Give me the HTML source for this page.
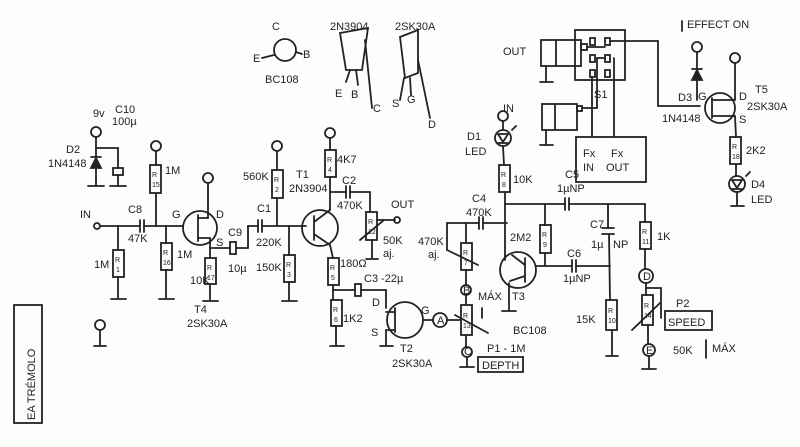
<!DOCTYPE html>
<html><head><meta charset="utf-8"><style>
html,body{margin:0;padding:0;background:#fff}
svg{display:block}
text{font-family:"Liberation Sans",sans-serif;fill:#222;font-size:11px}
.r{font-size:7px}
</style></head><body>
<svg width="800" height="447" viewBox="0 0 800 447" xmlns="http://www.w3.org/2000/svg">
<rect width="800" height="447" fill="#fdfdfb"/>
<g stroke="#222" stroke-width="1.8" fill="none" stroke-linecap="round">
<rect x="14" y="305" width="28" height="118"/>
<circle cx="96" cy="132" r="5"/><line x1="96" y1="137" x2="96" y2="185"/><line x1="88" y1="186" x2="104" y2="186"/>
<polygon points="91,168 101,168 96,158" fill="#222"/><line x1="91" y1="157" x2="101" y2="157"/>
<line x1="96" y1="148" x2="118" y2="148"/><line x1="118" y1="148" x2="118" y2="168"/><rect x="113" y="168" width="10" height="7"/><line x1="118" y1="175" x2="118" y2="186"/><line x1="110" y1="186" x2="126" y2="186"/>
<circle cx="100" cy="325" r="5"/><line x1="100" y1="330" x2="100" y2="345"/><line x1="94" y1="346" x2="106" y2="346"/>
<circle cx="97" cy="226" r="3"/><line x1="100" y1="226" x2="140" y2="226"/><line x1="140" y1="220" x2="140" y2="232"/><line x1="144" y1="220" x2="144" y2="232"/><line x1="144" y1="226" x2="183" y2="226"/>
<line x1="118" y1="226" x2="118" y2="250"/><rect x="113" y="250" width="11" height="27"/><line x1="118" y1="277" x2="118" y2="298"/><line x1="111" y1="299" x2="126" y2="299"/>
<circle cx="156" cy="146" r="5"/><line x1="156" y1="151" x2="156" y2="165"/><rect x="150" y="165" width="11" height="28"/><line x1="156" y1="193" x2="156" y2="226"/>
<line x1="166" y1="226" x2="166" y2="243"/><rect x="161" y="243" width="11" height="27"/><line x1="166" y1="270" x2="166" y2="298"/><line x1="159" y1="299" x2="174" y2="299"/>
<circle cx="200" cy="228" r="17"/><line x1="198" y1="215" x2="198" y2="241"/><line x1="198" y1="218" x2="208" y2="218"/><line x1="208" y1="218" x2="208" y2="183"/><circle cx="208" cy="178" r="5"/>
<line x1="198" y1="238" x2="210" y2="238"/><line x1="210" y1="238" x2="210" y2="248"/><line x1="210" y1="248" x2="230" y2="248"/>
<rect x="230" y="242" width="6" height="12"/><line x1="236" y1="248" x2="248" y2="248"/><line x1="248" y1="248" x2="248" y2="226"/>
<line x1="210" y1="248" x2="210" y2="258"/><rect x="205" y="258" width="11" height="26"/><line x1="210" y1="284" x2="210" y2="300"/><line x1="203" y1="301" x2="218" y2="301"/>
<line x1="248" y1="226" x2="258" y2="226"/><line x1="258" y1="220" x2="258" y2="232"/><line x1="262" y1="220" x2="262" y2="232"/><line x1="262" y1="226" x2="306" y2="226"/>
<circle cx="277" cy="146" r="5"/><line x1="277" y1="151" x2="277" y2="170"/><rect x="272" y="170" width="11" height="28"/><line x1="277" y1="198" x2="277" y2="226"/>
<line x1="289" y1="226" x2="289" y2="255"/><rect x="284" y="255" width="11" height="27"/><line x1="289" y1="282" x2="289" y2="300"/><line x1="282" y1="301" x2="297" y2="301"/>
<circle cx="320" cy="228" r="18"/><line x1="314" y1="216" x2="314" y2="240"/><line x1="314" y1="222" x2="330" y2="210"/><line x1="314" y1="234" x2="330" y2="245"/>
<circle cx="330" cy="133" r="5"/><line x1="330" y1="138" x2="330" y2="150"/><rect x="325" y="150" width="11" height="27"/><line x1="330" y1="177" x2="330" y2="210"/>
<line x1="330" y1="192" x2="346" y2="192"/><line x1="346" y1="186" x2="346" y2="198"/><line x1="350" y1="186" x2="350" y2="198"/><line x1="350" y1="192" x2="370" y2="192"/><line x1="370" y1="192" x2="370" y2="212"/>
<rect x="366" y="212" width="11" height="28"/><line x1="372" y1="240" x2="372" y2="258"/><line x1="366" y1="259" x2="378" y2="259"/><line x1="360" y1="240" x2="384" y2="220"/><line x1="377" y1="220" x2="395" y2="220"/><circle cx="397" cy="220" r="3"/>
<line x1="330" y1="245" x2="333" y2="258"/><rect x="328" y="258" width="11" height="27"/><line x1="333" y1="285" x2="333" y2="300"/>
<line x1="333" y1="290" x2="355" y2="290"/><rect x="355" y="284" width="6" height="12"/><line x1="361" y1="290" x2="386" y2="290"/><line x1="386" y1="290" x2="386" y2="308"/>
<rect x="331" y="300" width="11" height="26"/><line x1="336" y1="326" x2="336" y2="345"/><line x1="330" y1="346" x2="344" y2="346"/>
<circle cx="405" cy="320" r="18"/><line x1="395" y1="308" x2="395" y2="332"/><line x1="395" y1="312" x2="386" y2="312"/><line x1="395" y1="330" x2="386" y2="330"/><line x1="386" y1="330" x2="386" y2="345"/><line x1="380" y1="346" x2="393" y2="346"/>
<line x1="423" y1="320" x2="433" y2="320"/><circle cx="440" cy="320" r="7"/><line x1="447" y1="320" x2="460" y2="320"/>
<circle cx="466" cy="290" r="5"/><line x1="466" y1="295" x2="466" y2="305"/><rect x="461" y="305" width="11" height="30"/><line x1="466" y1="335" x2="466" y2="346"/><circle cx="467" cy="352" r="5"/><line x1="467" y1="357" x2="467" y2="366"/><line x1="460" y1="367" x2="474" y2="367"/>
<line x1="455" y1="315" x2="488" y2="333"/><line x1="482" y1="318" x2="482" y2="308"/>
<rect x="478" y="357" width="45" height="15"/>
<line x1="466" y1="285" x2="466" y2="270"/><rect x="461" y="243" width="11" height="27"/><line x1="466" y1="243" x2="466" y2="223"/><line x1="447" y1="223" x2="479" y2="223"/><line x1="447" y1="223" x2="447" y2="250"/><line x1="447" y1="250" x2="478" y2="265"/>
<line x1="479" y1="217" x2="479" y2="229"/><line x1="483" y1="217" x2="483" y2="229"/><line x1="483" y1="223" x2="507" y2="223"/>
<circle cx="503" cy="116" r="5"/><line x1="503" y1="121" x2="503" y2="130"/><circle cx="503" cy="138" r="8"/><polygon points="498,134 508,134 503,142"/><line x1="498" y1="143" x2="508" y2="143"/><line x1="512" y1="130" x2="516" y2="126"/><line x1="503" y1="146" x2="504" y2="165"/><rect x="499" y="165" width="11" height="27"/><line x1="505" y1="192" x2="505" y2="260"/>
<line x1="505" y1="204" x2="565" y2="204"/><line x1="565" y1="198" x2="565" y2="210"/><line x1="569" y1="198" x2="569" y2="210"/><line x1="569" y1="204" x2="645" y2="204"/>
<circle cx="518" cy="270" r="18"/><line x1="525" y1="258" x2="525" y2="282"/><line x1="525" y1="265" x2="512" y2="255"/><line x1="525" y1="276" x2="510" y2="281"/><line x1="536" y1="266" x2="572" y2="266"/><line x1="509" y1="283" x2="509" y2="310"/><line x1="502" y1="311" x2="516" y2="311"/>
<line x1="545" y1="204" x2="545" y2="225"/><rect x="540" y="225" width="11" height="28"/><line x1="545" y1="253" x2="545" y2="266"/>
<line x1="572" y1="260" x2="572" y2="272"/><line x1="576" y1="260" x2="576" y2="272"/><line x1="576" y1="266" x2="610" y2="266"/>
<line x1="608" y1="204" x2="608" y2="228"/><line x1="602" y1="228" x2="614" y2="228"/><line x1="602" y1="234" x2="614" y2="234"/><line x1="609" y1="234" x2="610" y2="300"/>
<rect x="606" y="300" width="11" height="30"/><line x1="612" y1="330" x2="612" y2="355"/><line x1="606" y1="356" x2="618" y2="356"/>
<line x1="645" y1="204" x2="645" y2="222"/><rect x="640" y="222" width="11" height="27"/><line x1="645" y1="249" x2="645" y2="268"/><circle cx="646" cy="276" r="7"/><line x1="646" y1="283" x2="646" y2="295"/>
<rect x="642" y="295" width="11" height="30"/><line x1="648" y1="325" x2="648" y2="343"/><circle cx="649" cy="350" r="6"/><line x1="649" y1="356" x2="649" y2="368"/><line x1="642" y1="369" x2="656" y2="369"/>
<line x1="646" y1="288" x2="661" y2="288"/><line x1="661" y1="288" x2="661" y2="318"/><line x1="632" y1="330" x2="660" y2="303"/>
<rect x="665" y="311" width="47" height="19"/><line x1="706" y1="340" x2="706" y2="358"/>
<circle cx="285" cy="50" r="11"/><line x1="262" y1="58" x2="274" y2="55"/><line x1="296" y1="52" x2="302" y2="54"/>
<path d="M340,33 L368,28 L362,70 L346,70 Z"/><line x1="350" y1="70" x2="346" y2="82"/><line x1="356" y1="70" x2="358" y2="85"/><line x1="365" y1="40" x2="372" y2="108"/>
<path d="M400,37 L418,30 L418,73 L405,78 Z"/><line x1="404" y1="78" x2="400" y2="100"/><line x1="410" y1="78" x2="411" y2="95"/><line x1="418" y1="60" x2="430" y2="118"/>
<rect x="541" y="40" width="40" height="26"/><line x1="556" y1="40" x2="556" y2="66"/><rect x="581" y="44" width="6" height="6"/><line x1="587" y1="47" x2="605" y2="47"/><line x1="546" y1="66" x2="546" y2="82"/><line x1="540" y1="82" x2="553" y2="82"/>
<rect x="542" y="104" width="35" height="26"/><line x1="555" y1="104" x2="555" y2="130"/><rect x="577" y="106" width="5" height="5"/><line x1="582" y1="108" x2="597" y2="108"/><line x1="597" y1="108" x2="597" y2="58"/><line x1="597" y1="58" x2="605" y2="58"/><line x1="546" y1="130" x2="546" y2="145"/><line x1="540" y1="145" x2="553" y2="145"/>
<rect x="575" y="30" width="50" height="50"/>
<rect x="590" y="38" width="5" height="7"/><rect x="605" y="38" width="5" height="7"/><rect x="590" y="55" width="5" height="7"/><rect x="605" y="55" width="5" height="7"/><rect x="590" y="70" width="5" height="7"/><rect x="605" y="70" width="5" height="7"/>
<line x1="610" y1="41" x2="658" y2="41"/><line x1="658" y1="41" x2="658" y2="106"/><line x1="658" y1="106" x2="700" y2="106"/>
<line x1="592" y1="77" x2="592" y2="137"/><line x1="614" y1="58" x2="614" y2="137"/>
<rect x="576" y="137" width="70" height="45"/>
<line x1="682" y1="21" x2="682" y2="31"/>
<circle cx="697" cy="47" r="5"/><line x1="697" y1="52" x2="697" y2="100"/><polygon points="692,80 702,80 697,70" fill="#222"/><line x1="692" y1="69" x2="702" y2="69"/>
<circle cx="720" cy="108" r="15"/><line x1="712" y1="98" x2="712" y2="118"/><line x1="712" y1="100" x2="735" y2="100"/><line x1="712" y1="116" x2="735" y2="116"/>
<circle cx="735" cy="58" r="5"/><line x1="735" y1="63" x2="735" y2="100"/><line x1="735" y1="116" x2="736" y2="137"/><rect x="730" y="137" width="11" height="27"/><line x1="736" y1="164" x2="736" y2="176"/><circle cx="737" cy="184" r="8"/><polygon points="732,180 742,180 737,188"/><line x1="732" y1="189" x2="742" y2="189"/><line x1="746" y1="176" x2="750" y2="172"/><line x1="737" y1="192" x2="737" y2="205"/><line x1="731" y1="206" x2="744" y2="206"/>
</g>
<g class="r">
<text class="r" x="115" y="262">R</text><text class="r" x="116" y="272">1</text>
<text class="r" x="152" y="177">R</text><text class="r" x="152" y="187">15</text>
<text class="r" x="163" y="255">R</text><text class="r" x="163" y="265">16</text>
<text class="r" x="207" y="270">R</text><text class="r" x="207" y="280">17</text>
<text class="r" x="274" y="182">R</text><text class="r" x="275" y="192">2</text>
<text class="r" x="286" y="267">R</text><text class="r" x="287" y="277">3</text>
<text class="r" x="327" y="162">R</text><text class="r" x="328" y="172">4</text>
<text class="r" x="368" y="224">R</text><text class="r" x="368" y="234">12</text>
<text class="r" x="330" y="270">R</text><text class="r" x="331" y="280">5</text>
<text class="r" x="333" y="312">R</text><text class="r" x="334" y="322">6</text>
<text class="r" x="463" y="318">R</text><text class="r" x="463" y="328">13</text>
<text class="r" x="463" y="255">R</text><text class="r" x="464" y="265">7</text>
<text class="r" x="501" y="177">R</text><text class="r" x="502" y="187">8</text>
<text class="r" x="542" y="237">R</text><text class="r" x="543" y="247">9</text>
<text class="r" x="608" y="313">R</text><text class="r" x="608" y="323">10</text>
<text class="r" x="642" y="234">R</text><text class="r" x="642" y="244">11</text>
<text class="r" x="644" y="308">R</text><text class="r" x="644" y="318">14</text>
<text class="r" x="732" y="149">R</text><text class="r" x="732" y="159">18</text>
</g>
<g>
<text x="93" y="117" font-size="13">9v</text><text x="115" y="113">C10</text><text x="112" y="125">100µ</text>
<text x="66" y="153">D2</text><text x="48" y="167">1N4148</text>
<text x="80" y="218" font-size="12">IN</text><text x="128" y="213">C8</text><text x="128" y="242">47K</text><text x="94" y="268">1M</text>
<text x="165" y="174">1M</text><text x="177" y="258">1M</text><text x="172" y="218">G</text><text x="216" y="218">D</text><text x="216" y="246">S</text>
<text x="228" y="236">C9</text><text x="228" y="272">10µ</text><text x="190" y="284">10K</text><text x="194" y="313">T4</text><text x="187" y="327">2SK30A</text>
<text x="257" y="212">C1</text><text x="256" y="246">220K</text><text x="243" y="180">560K</text><text x="256" y="271">150K</text>
<text x="296" y="178">T1</text><text x="289" y="192">2N3904</text><text x="337" y="163">4K7</text><text x="342" y="184">C2</text><text x="337" y="209">470K</text>
<text x="391" y="208">OUT</text><text x="383" y="244">50K</text><text x="383" y="257">aj.</text><text x="340" y="267">180Ω</text><text x="364" y="282">C3 -22µ</text><text x="343" y="322">1K2</text>
<text x="372" y="306">D</text><text x="371" y="336">S</text><text x="421" y="314">G</text><text x="400" y="352">T2</text><text x="392" y="367">2SK30A</text>
<text x="437" y="324" font-size="9">A</text><text x="463" y="294" font-size="8">B</text><text x="464" y="355" font-size="8">C</text>
<text x="478" y="300" font-size="10">MÁX</text><text x="487" y="352">P1 - 1M</text><text x="482" y="369">DEPTH</text>
<text x="467" y="140">D1</text><text x="465" y="155">LED</text><text x="513" y="183">10K</text><text x="472" y="202">C4</text><text x="466" y="216">470K</text><text x="418" y="245">470K</text><text x="428" y="258">aj.</text>
<text x="510" y="241">2M2</text><text x="512" y="300">T3</text><text x="513" y="334">BC108</text>
<text x="565" y="178">C5</text><text x="557" y="192">1µNP</text><text x="590" y="228">C7</text><text x="591" y="248">1µ</text><text x="613" y="248">NP</text>
<text x="567" y="257">C6</text><text x="563" y="282">1µNP</text><text x="576" y="323">15K</text><text x="657" y="240">1K</text>
<text x="643" y="280" font-size="9">D</text><text x="646" y="354" font-size="9">E</text><text x="676" y="307">P2</text><text x="668" y="326">SPEED</text><text x="673" y="354">50K</text><text x="712" y="352">MÁX</text>
<text x="272" y="30">C</text><text x="253" y="62">E</text><text x="303" y="58">B</text><text x="265" y="83">BC108</text>
<text x="330" y="30">2N3904</text><text x="335" y="97">E</text><text x="351" y="98">B</text><text x="373" y="112">C</text>
<text x="395" y="30">2SK30A</text><text x="392" y="107">S</text><text x="407" y="103">G</text><text x="428" y="128">D</text>
<text x="503" y="55">OUT</text><text x="503" y="112">IN</text><text x="594" y="98">S1</text>
<text x="583" y="157">Fx</text><text x="611" y="157">Fx</text><text x="583" y="171">IN</text><text x="606" y="171">OUT</text>
<text x="687" y="28">EFFECT ON</text><text x="678" y="101">D3</text><text x="698" y="100">G</text><text x="739" y="100">D</text><text x="739" y="123">S</text>
<text x="662" y="122">1N4148</text><text x="755" y="93">T5</text><text x="747" y="110">2SK30A</text><text x="746" y="154">2K2</text><text x="751" y="188">D4</text><text x="751" y="203">LED</text>
<text transform="translate(35,420) rotate(-90)" font-size="13">EA TRÉMOLO</text>
</g>
</svg>
</body></html>
